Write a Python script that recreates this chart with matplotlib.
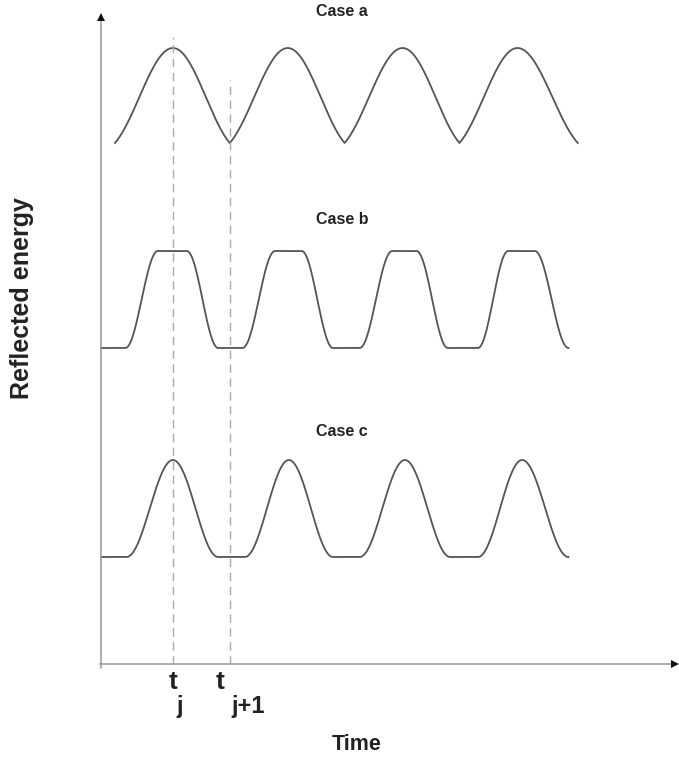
import matplotlib.pyplot as plt
import numpy as np

plt.rcParams['font.family'] = ['Liberation Sans', 'DejaVu Sans']

# time in units of one beam period, energy in arbitrary units
# case a: troughs / peaks of the reflected energy
case_a_t = [0.12, 0.62, 1.11, 1.61, 2.10, 2.60, 3.09, 3.59, 4.11]
case_a_e = [5.21, 6.16, 5.21, 6.16, 5.21, 6.16, 5.21, 6.16, 5.21]

# case b: flat bottoms and flat tops
case_b_t = [0.00, 0.21, 0.49, 0.74, 1.01, 1.22, 1.50, 1.73, 2.00,
            2.23, 2.51, 2.72, 2.99, 3.25, 3.51, 3.74, 4.03]
case_b_e = [3.16, 3.16, 4.13, 4.13, 3.16, 3.16, 4.13, 4.13, 3.16,
            3.16, 4.13, 4.13, 3.16, 3.16, 4.13, 4.13, 3.16]

# case c: flat bottoms, rounded peaks
case_c_t = [0.00, 0.22, 0.62, 1.01, 1.24, 1.62, 2.00, 2.23, 2.62,
            3.01, 3.25, 3.63, 4.03]
case_c_e = [1.07, 1.07, 2.04, 1.07, 1.07, 2.04, 1.07, 1.07, 2.04,
            1.07, 1.07, 2.04, 1.07]

case_names = ['Case a', 'Case b', 'Case c']
case_label_e = [6.52, 4.44, 2.32]
label_t = 2.08

t_j = 0.62
t_j1 = 1.11
marker_top = [6.27, 5.84]


def smooth(ts, es, sharp_low=False):
    # join the knots with half-cosine segments; with sharp_low the
    # troughs keep some slope so they come out pointed
    xs, ys = [], []
    for i in range(len(ts) - 1):
        t0, t1, e0, e1 = ts[i], ts[i + 1], es[i], es[i + 1]
        s = np.linspace(0, 1, 60)
        w = (1 - np.cos(s * np.pi)) / 2
        if sharp_low:
            if e1 > e0:
                w = 0.45 * np.sin(s * np.pi / 2) + 0.55 * w
            else:
                w = 0.45 * (1 - np.cos(s * np.pi / 2)) + 0.55 * w
        xs.append(t0 + (t1 - t0) * s)
        ys.append(e0 + (e1 - e0) * w)
    return np.concatenate(xs), np.concatenate(ys)


fig = plt.figure(figsize=(6.79, 7.59), dpi=100)
ax = fig.add_axes([0, 0, 1, 1])
ax.set_xlim(-0.871, 4.983)
ax.set_ylim(-0.95, 6.64)
ax.axis('off')

line_color = '#555555'
x, y = smooth(case_a_t, case_a_e, sharp_low=True)
ax.plot(x, y, color=line_color, lw=1.3)
x, y = smooth(case_b_t, case_b_e)
ax.plot(x, y, color=line_color, lw=1.3)
x, y = smooth(case_c_t, case_c_e)
ax.plot(x, y, color=line_color, lw=1.3)

# t_j and t_j+1 markers
ax.plot([t_j, t_j], [0, marker_top[0]], color='#aaaaaa', lw=1, ls=(0, (6, 4)))
ax.plot([t_j1, t_j1], [0, marker_top[1]], color='#aaaaaa', lw=1, ls=(0, (6, 4)))

# axes with arrow heads
ax.plot([-0.01, 4.94], [0, 0], color='#999999', lw=1.1)
ax.plot([0, 0], [-0.04, 6.45], color='#999999', lw=1.1)
ax.plot([4.95], [0], marker='>', color='#111111', ms=6, mew=0)
ax.plot([0], [6.47], marker='^', color='#111111', ms=6, mew=0)

for name, e in zip(case_names, case_label_e):
    ax.text(label_t, e, name, ha='center', va='center', fontsize=11.5,
            fontweight='bold', color='#222222')

# tick labels t_j and t_j+1 with dropped subscripts
ax.text(t_j, -0.18, 't', ha='center', va='center', fontsize=19,
        fontweight='bold', color='#222222')
ax.text(t_j + 0.06, -0.43, 'j', ha='center', va='center', fontsize=17,
        fontweight='bold', color='#222222')
ax.text(t_j1 - 0.08, -0.18, 't', ha='center', va='center', fontsize=19,
        fontweight='bold', color='#222222')
ax.text(t_j1 + 0.01, -0.43, 'j+1', ha='left', va='center', fontsize=17,
        fontweight='bold', color='#222222')

ax.text(2.2, -0.80, 'Time', ha='center', va='center', fontsize=15.5,
        fontweight='bold', color='#222222')
ax.text(-0.68, 3.66, 'Reflected energy', ha='center', va='center',
        rotation=90, fontsize=18, fontweight='bold', color='#222222')

fig.savefig('out.png', dpi=100)
